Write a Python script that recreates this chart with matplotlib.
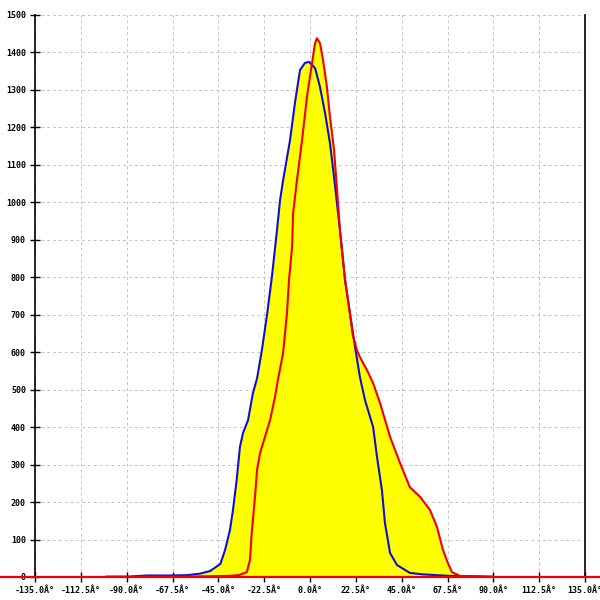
import matplotlib
matplotlib.use("Agg")
import matplotlib.pyplot as plt
from matplotlib.lines import Line2D
import numpy as np

# blue series (angle, count)
blue_x = [-100, -89, -80, -70, -60, -54, -49, -44, -41.7, -39.3, -37.8, -36, -34.4, -32.9,
          -30.4, -28, -26, -23.6, -21, -18.7, -16.2, -14.7, -13.2, -9.8, -7.4, -4.9, -2.5,
          -0.5, 2.5, 4.9, 7.4, 9.8, 11.8, 14.7, 17.2, 19.6, 22.1, 24.5, 27, 31, 32.9, 35.3,
          36.8, 39.3, 42.7, 49, 55.5, 68.7, 80, 90]
blue_y = [1, 1, 4, 4, 5, 9, 16, 35, 72, 125, 179, 259, 347, 384,
          419, 491, 530, 606, 704, 801, 926, 1006, 1059, 1166, 1265, 1353, 1372,
          1375, 1358, 1308, 1238, 1158, 1068, 926, 793, 704, 614, 534, 472, 400, 320, 232,
          144, 64, 32, 11, 7, 3, 2, 1]

# red series
red_x = [-100, -60, -40, -35, -31, -29.5, -28.5, -27, -26, -24.5, -23, -19.6, -17.2, -15.7,
         -13.2, -11.3, -10.3, -8.8, -8.3, -6.4, -3.9, -1.5, 1, 2.5, 3.4, 4.9, 6.4, 8.3, 9.8,
         11.8, 12.8, 14.7, 17.2, 19.6, 21, 23, 24.5, 28, 31, 34.4, 39.3, 44.2, 49, 54, 58.9,
         62.3, 65.3, 67.7, 69.7, 73.6, 80, 90]
red_y = [0, 1, 3, 5, 13, 45, 125, 214, 286, 331, 358, 419, 480, 528,
         598, 704, 793, 881, 971, 1059, 1166, 1281, 1372, 1425, 1438, 1425, 1380, 1308, 1228,
         1140, 1068, 926, 793, 704, 646, 606, 587, 552, 517, 464, 374, 304, 240, 214, 179,
         134, 72, 37, 13, 3, 1, 0]

xticks = [-135, -112.5, -90, -67.5, -45, -22.5, 0, 22.5, 45, 67.5, 90, 112.5, 135]
yticks = list(range(0, 1501, 100))

fig = plt.figure(figsize=(6, 6), dpi=100)
ax = fig.add_axes([35 / 600, 23 / 600, 550 / 600, 562 / 600])

# yellow area under both curves
gx = np.union1d(blue_x, red_x)
top = np.maximum(np.interp(gx, blue_x, blue_y), np.interp(gx, red_x, red_y))
ax.fill_between(gx, 0, top, color="#ffff00", lw=0, zorder=2)

ax.plot(blue_x, blue_y, color="#1010cc", lw=1.5, zorder=3)
ax.plot(red_x, red_y, color="#ee0000", lw=1.5, zorder=4)

ax.set_xlim(-135, 135)
ax.set_ylim(0, 1500)
ax.set_xticks(xticks)
ax.set_yticks(yticks)
ax.set_xticklabels([f"{v:.1f}\u00c2\u00b0" for v in xticks])
ax.set_yticklabels([str(v) for v in yticks])
ax.grid(True, color="#c4c4c4", linestyle=(0, (3, 3)), lw=0.7, zorder=0)

for s in ["top", "bottom"]:
    ax.spines[s].set_visible(False)
ax.spines["left"].set_color("black")
ax.spines["right"].set_color("black")
ax.spines["left"].set_linewidth(1.2)
ax.spines["right"].set_linewidth(1.2)

ax.tick_params(direction="inout", length=7, width=1, color="black", pad=3)
for lab in ax.get_xticklabels() + ax.get_yticklabels():
    lab.set_fontfamily("DejaVu Sans Mono")
    lab.set_fontweight("bold")
    lab.set_fontsize(6)

# red baseline across whole width
fig.add_artist(Line2D([0, 1], [23 / 600, 23 / 600], color="#ee0000", lw=1.6, zorder=5))

fig.savefig("out.png", dpi=100, facecolor="white")
